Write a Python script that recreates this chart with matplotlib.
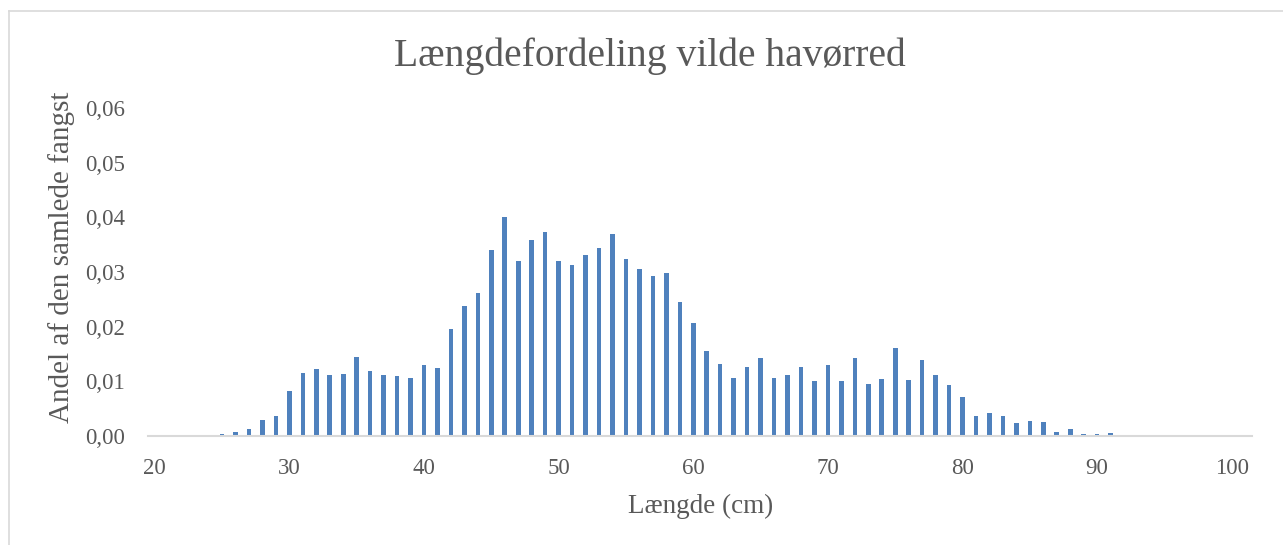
import matplotlib.pyplot as plt
from matplotlib.lines import Line2D
from matplotlib.ticker import FuncFormatter

# ---------- Style ----------
BAR_COLOR = '#4f81bd'
TEXT_GRAY = '#595959'
AXIS_GRAY = '#d9d9d9'

plt.rcParams.update({
    'font.family': ['Liberation Serif', 'DejaVu Serif'],
    'text.color': TEXT_GRAY,
    'axes.labelcolor': TEXT_GRAY,
    'xtick.color': TEXT_GRAY,
    'ytick.color': TEXT_GRAY,
})

# ---------- Data ----------
length_cm = list(range(20, 101))
share = [
    0.0, 0.0, 0.0, 0.0001, 0.0001,                        # 20-24
    0.0003, 0.0007, 0.0012, 0.0030, 0.0037,               # 25-29
    0.0082, 0.0115, 0.0122, 0.0112, 0.0113,               # 30-34
    0.0145, 0.0118, 0.0112, 0.0109, 0.0107,               # 35-39
    0.0129, 0.0125, 0.0195, 0.0238, 0.0261,               # 40-44
    0.0340, 0.0401, 0.0321, 0.0358, 0.0373,               # 45-49
    0.0321, 0.0313, 0.0331, 0.0344, 0.0369,               # 50-54
    0.0324, 0.0305, 0.0292, 0.0298, 0.0245,               # 55-59
    0.0207, 0.0155, 0.0132, 0.0107, 0.0127,               # 60-64
    0.0143, 0.0107, 0.0112, 0.0126, 0.0100,               # 65-69
    0.0129, 0.0100, 0.0143, 0.0095, 0.0105,               # 70-74
    0.0161, 0.0102, 0.0139, 0.0112, 0.0094,               # 75-79
    0.0071, 0.0037, 0.0042, 0.0037, 0.0024,               # 80-84
    0.0028, 0.0026, 0.0007, 0.0012, 0.0003,               # 85-89
    0.0003, 0.0005, 0.0001, 0.0001, 0.0,                  # 90-94
    0.0001, 0.0, 0.0001, 0.0, 0.0001,                     # 95-99
    0.0001,                                               # 100
]
yticks = [0.0, 0.01, 0.02, 0.03, 0.04, 0.05, 0.06]
xticks = [20, 30, 40, 50, 60, 70, 80, 90, 100]

# ---------- Figure ----------
fig = plt.figure(figsize=(12.83, 5.45), dpi=100)
ax = fig.add_axes([148 / 1283, 1 - 436 / 545, 1104 / 1283, 328 / 545])

ax.bar(length_cm, share, width=0.34, color=BAR_COLOR)

# ---------- axes ----------
ax.set_xlim(19.5, 101.5)
ax.set_ylim(0, 0.06)
ax.set_xticks(xticks)
ax.set_yticks(yticks)
ax.yaxis.set_major_formatter(FuncFormatter(lambda v, p: f"{v:.2f}".replace('.', ',')))
ax.tick_params(axis='both', length=0, labelsize=16.5)
ax.tick_params(axis='x', pad=16)
ax.tick_params(axis='y', pad=16.5)

for side in ['top', 'right', 'left']:
    ax.spines[side].set_visible(False)
ax.spines['bottom'].set_color(AXIS_GRAY)
ax.spines['bottom'].set_linewidth(1.5)

ax.set_xlabel("Længde (cm)", fontsize=19.5)
ax.set_ylabel("Andel af den samlede fangst", fontsize=21)
ax.xaxis.set_label_coords(0.5009, -0.175)
ax.yaxis.set_label_coords(-0.066, 0.544)

fig.text(0.5 + 8 / 1283, 1 - 56 / 545, "Længdefordeling vilde havørred",
         ha='center', va='center', fontsize=28.5, color=TEXT_GRAY)

# chart frame (cropped at right/bottom)
fig.add_artist(Line2D([8.5 / 1283, 8.5 / 1283], [0, 1 - 11 / 545],
                      color=AXIS_GRAY, lw=1.2, transform=fig.transFigure))
fig.add_artist(Line2D([8.5 / 1283, 1], [1 - 11 / 545, 1 - 11 / 545],
                      color=AXIS_GRAY, lw=1.2, transform=fig.transFigure))

fig.savefig("out.png", dpi=100)
